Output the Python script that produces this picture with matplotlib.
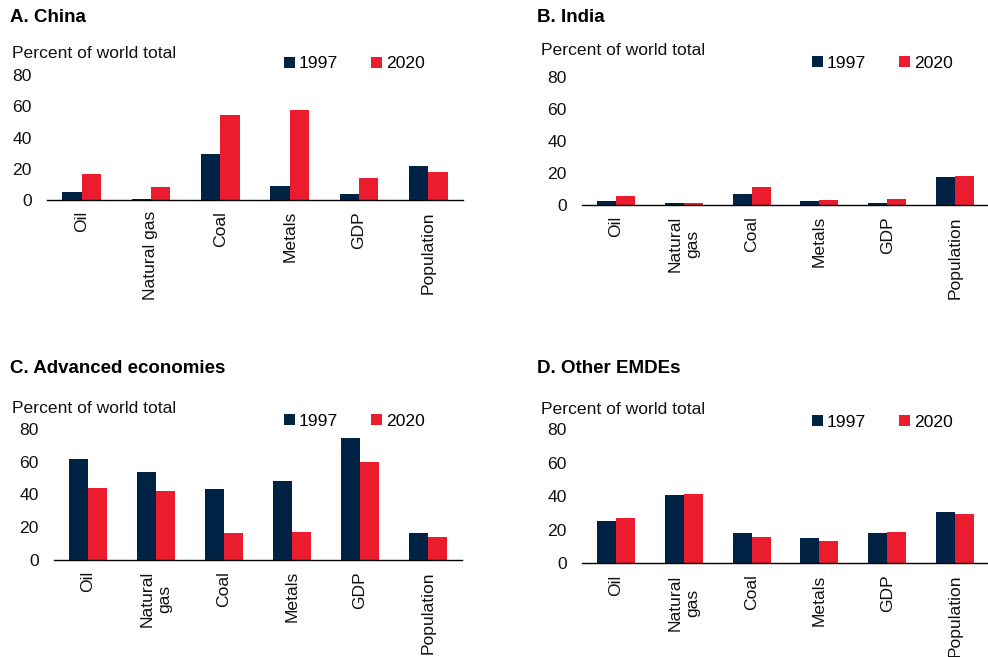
import matplotlib
matplotlib.use("Agg")
import matplotlib.pyplot as plt
import numpy as np

plt.rcParams['font.family'] = ['Liberation Sans', 'DejaVu Sans']

categories = ["Oil", "Natural gas", "Coal", "Metals", "GDP", "Population"]
categories_wrapped = ["Oil", "Natural\ngas", "Coal", "Metals", "GDP", "Population"]

china_1997 = [4.9, 0.7, 29.7, 8.7, 3.6, 22.0]
china_2020 = [16.6, 8.3, 54.2, 57.6, 14.1, 17.9]
india_1997 = [2.5, 1.0, 6.7, 2.3, 1.5, 17.5]
india_2020 = [5.4, 1.3, 11.3, 3.1, 3.5, 18.0]
adv_1997 = [61.3, 53.8, 43.2, 48.3, 74.5, 16.4]
adv_2020 = [43.7, 42.0, 16.4, 17.3, 59.5, 13.8]
other_1997 = [25.1, 40.6, 18.1, 15.1, 17.9, 30.4]
other_2020 = [26.9, 41.4, 15.5, 13.5, 18.9, 29.4]

NAVY = '#002345'
RED = '#EB1C2D'
W, H = 988, 657

fig = plt.figure(figsize=(W / 100, H / 100), dpi=100)


def px(x, y):
    return x / W, 1 - y / H


def panel(rect, title, title_xy, unit_xy, leg_xy, labels, v1997, v2020):
    x0, x1, ytop, ybot = rect
    ax = fig.add_axes([x0 / W, 1 - ybot / H, (x1 - x0) / W, (ybot - ytop) / H])
    x = np.arange(len(labels))
    bw = 0.28
    ax.bar(x - bw / 2, v1997, bw, color=NAVY, label="1997")
    ax.bar(x + bw / 2, v2020, bw, color=RED, label="2020")
    ax.set_xlim(-0.5, len(labels) - 0.5)
    ax.set_ylim(0, 80)
    ax.set_yticks([0, 20, 40, 60, 80])
    ax.set_xticks(x)
    ax.set_xticklabels(labels, rotation=90, ha='center', va='top', linespacing=1.25)
    ax.tick_params(axis='both', length=0, labelsize=12.6, colors='#111111')
    ax.tick_params(axis='y', pad=11)
    ax.tick_params(axis='x', pad=8)
    for s in ['top', 'right', 'left']:
        ax.spines[s].set_visible(False)
    ax.spines['bottom'].set_color('black')
    ax.spines['bottom'].set_linewidth(1.0)
    ax.patch.set_visible(False)

    fig.text(*px(*title_xy), title, fontsize=13.5, fontweight='bold', va='baseline', ha='left')
    fig.text(*px(*unit_xy), "Percent of world total", fontsize=12.6, va='baseline', ha='left', color='#111111')
    ax.legend(loc='center left', bbox_to_anchor=px(*leg_xy), bbox_transform=fig.transFigure,
              ncol=2, frameon=False, fontsize=12.6, handlelength=0.6, handleheight=0.6,
              handletextpad=0.25, columnspacing=1.9, borderpad=0, borderaxespad=0)
    return ax


panel((47, 463, 75, 200), "A. China", (10, 21.7), (12, 57.7), (284, 64),
      categories, china_1997, china_2020)
panel((582, 989, 77.3, 205), "B. India", (537, 21.7), (541, 55), (812, 63.5),
      categories_wrapped, india_1997, india_2020)
panel((54, 462, 428.7, 560), "C. Advanced economies", (10, 372.7), (12, 413.3), (284, 421),
      categories_wrapped, adv_1997, adv_2020)
panel((582, 989, 429.3, 563.3), "D. Other EMDEs", (537, 372.7), (541, 414.3), (812, 422.5),
      categories_wrapped, other_1997, other_2020)

fig.savefig("out.png", dpi=100)
